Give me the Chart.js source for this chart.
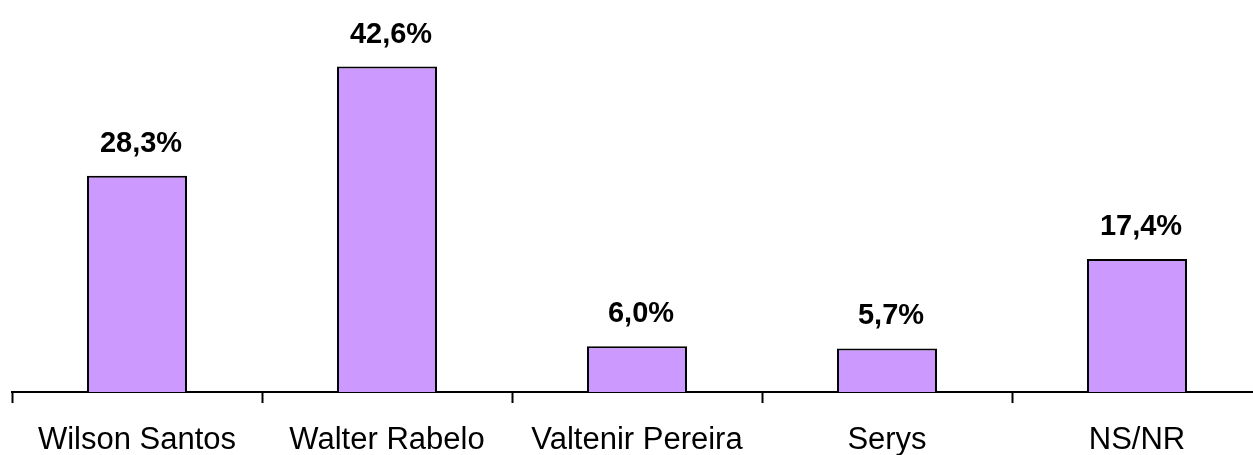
<!DOCTYPE html>
<html>
<head>
<meta charset="utf-8">
<script src="https://cdn.jsdelivr.net/npm/chart.js@4/dist/chart.umd.min.js"></script>
<style>
  html, body { margin: 0; padding: 0; background: #fff; overflow: hidden; }
  #wrap { width: 1262px; height: 478px; }
</style>
</head>
<body>
<div id="wrap"><canvas id="votos"></canvas></div>
<script>
const candidatos = ["Wilson Santos", "Walter Rabelo", "Valtenir Pereira", "Serys", "NS/NR"];
const percentuais = [28.3, 42.6, 6.0, 5.7, 17.4];

// rotulos "28,3%" acima das barras
const rotulosPlugin = {
  id: "rotulos",
  afterDatasetsDraw(chart) {
    const ctx = chart.ctx;
    const meta = chart.getDatasetMeta(0);
    ctx.save();
    ctx.font = "bold 29px 'Liberation Sans', Arial, sans-serif";
    ctx.fillStyle = "#000";
    ctx.textAlign = "center";
    ctx.textBaseline = "alphabetic";
    meta.data.forEach((bar, i) => {
      const txt = percentuais[i].toFixed(1).replace(".", ",") + "%";
      ctx.fillText(txt, bar.x + 4, bar.y - 24);
    });
    ctx.restore();
  },
};

new Chart(document.getElementById("votos"), {
  type: "bar",
  data: {
    labels: candidatos,
    datasets: [{
      data: percentuais,
      backgroundColor: "#CC99FF",
      borderColor: "#000",
      borderWidth: 2,
      borderSkipped: "bottom",
      categoryPercentage: 1,
      barPercentage: 0.4,
    }],
  },
  options: {
    responsive: true,
    maintainAspectRatio: false,
    animation: false,
    layout: { padding: { left: 12, right: 0, top: 10, bottom: 0 } },
    plugins: { legend: { display: false }, tooltip: { enabled: false } },
    scales: {
      y: { display: false, min: 0, max: 50 },
      x: {
        grid: {
          offset: true,
          drawOnChartArea: false,
          drawTicks: true,
          tickLength: 11,
          tickColor: "#000",
          tickWidth: 2,
        },
        border: { display: true, color: "#000", width: 2 },
        ticks: {
          color: "#000",
          padding: 22,
          maxRotation: 0,
          font: { family: "'Liberation Sans', Arial, sans-serif", size: 31, lineHeight: 1 },
        },
      },
    },
  },
  plugins: [rotulosPlugin],
});
</script>
</body>
</html>
